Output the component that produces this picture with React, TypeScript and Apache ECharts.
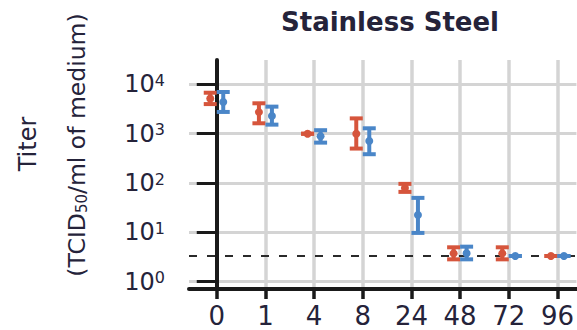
import React, { useEffect, useRef } from "react";
import * as echarts from "echarts";

// Hours after inoculation (x categories)
const categories = ["0", "1", "4", "8", "24", "48", "72", "96"];
// Titer values (TCID50/ml) — series A (red)
const redMean = [5200, 2750, 1000, 1000, 79, 3.73, 3.73, 3.3];
const redLow = [4000, 1630, 1000, 500, 66, 2.82, 2.82, 3.3];
const redHigh = [6800, 4150, 1000, 2050, 96, 4.95, 4.95, 3.3];
// Titer values — series B (blue)
const blueMean = [4420, 2300, 890, 714, 22.5, 3.75, 3.3, 3.3];
const blueLow = [2770, 1530, 660, 384, 9.7, 2.82, 3.3, 3.3];
const blueHigh = [7040, 3550, 1180, 1290, 49.9, 5.1, 3.3, 3.3];
// Detection limit (dashed line)
const detectionLimit = [3.3];
// Y tick values
const yTicks = [1, 10, 100, 1000, 10000];

const RED = "#d6553c";
const BLUE = "#4a86c8";
const TEXT = "#25233a";
const FONT = "DejaVu Sans";

function makeRender(offset: number, color: string) {
  return (params: any, api: any) => {
    const x = api.value(0);
    const pm = api.coord([x, api.value(1)]);
    const plo = api.coord([x, api.value(2)]);
    const phi = api.coord([x, api.value(3)]);
    const cx = pm[0] + offset;
    const hw = 6.5;
    const st = { stroke: color, lineWidth: 4 };
    return {
      type: "group",
      children: [
        { type: "line", shape: { x1: cx, y1: phi[1], x2: cx, y2: plo[1] }, style: st },
        { type: "line", shape: { x1: cx - hw, y1: phi[1], x2: cx + hw, y2: phi[1] }, style: st },
        { type: "line", shape: { x1: cx - hw, y1: plo[1], x2: cx + hw, y2: plo[1] }, style: st },
        { type: "circle", shape: { cx, cy: pm[1], r: 4 }, style: { fill: color } },
      ],
    };
  };
}

export default function App() {
  const ref = useRef<HTMLDivElement>(null);
  useEffect(() => {
    if (!ref.current) return;
    const chart = echarts.init(ref.current, null, { renderer: "svg" });
    const idx = categories.map((_, i) => i);
    const redData = idx.map((i) => [i, redMean[i], redLow[i], redHigh[i]]);
    const blueData = idx.map((i) => [i, blueMean[i], blueLow[i], blueHigh[i]]);
    chart.setOption({
      animation: false,
      grid: { left: 189, right: 0, top: 60, bottom: 41, containLabel: false },
      xAxis: {
        type: "value",
        min: -0.57,
        max: 7.39,
        axisLine: { show: true, lineStyle: { color: "#1a1a1a", width: 4 } },
        axisTick: {
          show: true,
          customValues: idx,
          length: 10,
          lineStyle: { color: "#1a1a1a", width: 3.5 },
        },
        axisLabel: {
          customValues: idx,
          formatter: (v: number) => categories[Math.round(v)],
          fontSize: 26,
          fontFamily: FONT,
          color: TEXT,
          margin: 14,
        },
        splitLine: { show: true, lineStyle: { color: "#d4d4d4", width: 3.5 } },
      },
      yAxis: {
        type: "log",
        logBase: 10,
        min: 0.705,
        max: 31400,
        axisLine: { show: true, lineStyle: { color: "#1a1a1a", width: 4 } },
        axisTick: {
          show: true,
          customValues: yTicks,
          length: 20,
          lineStyle: { color: "#1a1a1a", width: 3 },
        },
        axisLabel: {
          customValues: yTicks,
          margin: 24,
          formatter: (v: number) => "{b|10}{s|" + Math.round(Math.log10(v)) + "}",
          rich: {
            b: { fontSize: 24, fontFamily: FONT, color: TEXT },
            s: { fontSize: 16, fontFamily: FONT, color: TEXT, verticalAlign: "top", lineHeight: 16 },
          },
        },
        splitLine: { show: true, lineStyle: { color: "#d4d4d4", width: 3 } },
      },
      graphic: [
        {
          type: "text",
          x: 390,
          y: 22,
          style: {
            text: "Stainless Steel",
            fontSize: 26,
            fontWeight: "bold",
            fontFamily: FONT,
            fill: TEXT,
            align: "center",
            verticalAlign: "middle",
          },
        },
        {
          type: "text",
          x: 28,
          y: 144,
          rotation: Math.PI / 2,
          style: {
            text: "Titer",
            fontSize: 24,
            fontFamily: FONT,
            fill: TEXT,
            align: "center",
            verticalAlign: "middle",
          },
        },
        {
          type: "text",
          x: 77,
          y: 145,
          rotation: Math.PI / 2,
          style: {
            text: "(TCID{sub|50}/ml of medium)",
            fontSize: 23.5,
            fontFamily: FONT,
            fill: TEXT,
            align: "center",
            verticalAlign: "middle",
            rich: {
              sub: { fontSize: 15, fontFamily: FONT, fill: TEXT, verticalAlign: "bottom", padding: [10, 0, 0, 0] },
            },
          },
        },
      ],
      series: [
        {
          type: "custom",
          name: "red",
          renderItem: makeRender(-6.5, RED),
          data: redData,
          encode: { x: 0, y: 1 },
          clip: false,
          z: 3,
          markLine: {
            silent: true,
            symbol: "none",
            label: { show: false },
            lineStyle: { color: "#2a2a2a", width: 2, type: [8, 10] },
            data: detectionLimit.map((v) => ({ yAxis: v })),
            z: 2,
          },
        },
        {
          type: "custom",
          name: "blue",
          renderItem: makeRender(6.5, BLUE),
          data: blueData,
          encode: { x: 0, y: 1 },
          clip: false,
          z: 4,
        },
      ],
    });
    return () => chart.dispose();
  }, []);
  return (
    <div
      ref={ref}
      style={{ position: "fixed", left: 0, top: 0, width: 577, height: 330, background: "#fff" }}
    />
  );
}
